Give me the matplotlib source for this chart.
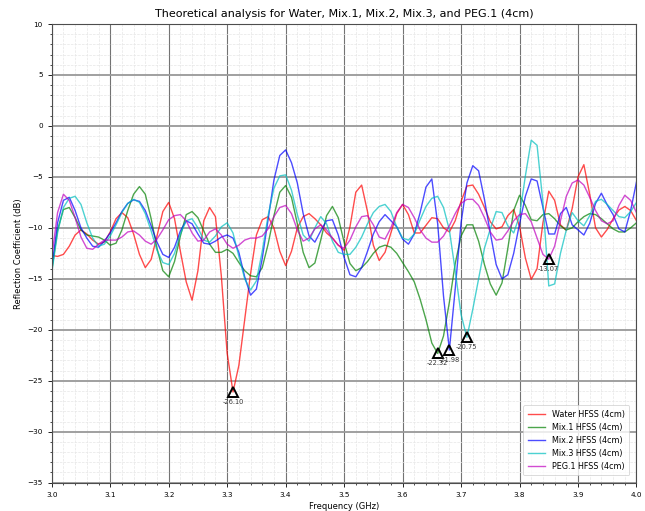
import numpy as np
import matplotlib
matplotlib.use("Agg")
import matplotlib.pyplot as plt
from matplotlib.ticker import MultipleLocator

# Frequency axis (GHz), 3.00 .. 4.00 in 0.01 steps
freq = np.round(np.arange(101) * 0.01 + 3.0, 2)

water = [-12.7, -12.8, -12.6, -11.8, -10.7, -10.2, -10.6, -11.2, -11.6, -11.4,
         -10.4, -9.1, -8.5, -9.0, -10.6, -12.6, -13.9, -13.1, -10.8, -8.4,
         -7.5, -9.1, -12.3, -15.3, -17.1, -14.2, -9.3, -8.0, -8.9, -14.7,
         -22.3, -26.1, -23.5, -19.0, -14.5, -10.7, -9.2, -8.9, -10.0, -12.3,
         -13.7, -12.3, -10.0, -8.9, -8.6, -9.1, -9.7, -10.5, -11.0, -11.7,
         -12.2, -9.9, -6.5, -5.8, -8.4, -11.7, -13.2, -12.4, -10.5, -8.6,
         -7.7, -8.7, -10.5, -10.5, -9.75, -9.0, -9.1, -10.0, -10.4, -9.3,
         -7.4, -5.9, -5.8, -6.7, -8.0, -9.4, -10.1, -9.9, -8.8, -8.2,
         -9.85, -12.95, -15.05, -14.0, -9.5, -6.4, -7.3, -9.7, -10.25, -8.1,
         -5.0, -3.8, -6.7, -10.0, -10.9, -10.15, -9.1, -8.25, -7.9, -8.3,
         -9.3]

mix1 = [-14.2, -10.2, -8.2, -8.0, -9.0, -10.2, -10.7, -10.8, -10.9, -11.2,
        -11.7, -11.5, -10.2, -8.3, -6.7, -5.95, -6.7, -9.1, -12.0, -14.2,
        -14.8, -13.3, -10.8, -8.7, -8.4, -9.0, -10.3, -11.6, -12.4, -12.4,
        -12.1, -12.5, -13.4, -14.2, -14.7, -14.8, -13.9, -11.6, -8.8, -6.5,
        -5.85, -7.0, -9.6, -12.4, -13.9, -13.45, -11.2, -8.8, -7.9, -9.0,
        -11.4, -13.5, -14.2, -13.9, -13.3, -12.5, -11.9, -11.7, -11.9, -12.5,
        -13.4, -14.3, -15.3, -17.0, -19.0, -21.3, -22.32, -20.6, -17.3, -13.5,
        -10.8, -9.7, -9.7, -11.3, -13.6, -15.5, -16.6, -15.4, -12.0, -8.3,
        -6.8, -7.8, -9.2, -9.3, -8.7, -8.6, -9.1, -9.8, -10.2, -10.0,
        -9.4, -8.9, -8.6, -8.7, -9.1, -9.6, -10.1, -10.4, -10.4, -10.0,
        -9.5]

mix2 = [-14.0, -9.5, -7.3, -7.0, -8.3, -10.0, -11.0, -11.8, -11.9, -11.3,
        -10.5, -9.5, -8.4, -7.6, -7.25, -7.4, -8.3, -9.8, -11.4, -12.6,
        -12.9, -11.9, -10.3, -9.3, -9.6, -10.6, -11.5, -11.6, -11.3, -10.9,
        -10.7, -11.0, -12.4, -14.8, -16.6, -16.0, -13.0, -9.2, -5.3, -2.9,
        -2.35, -3.6, -5.6, -8.6, -10.8, -11.4, -10.3, -9.3, -9.2, -10.7,
        -12.9, -14.6, -14.8, -13.9, -12.3, -10.6, -9.4, -8.7, -9.3, -9.9,
        -11.1, -11.6, -10.6, -8.5, -6.0, -5.2, -9.6, -16.7, -21.98, -16.0,
        -9.5, -5.6, -3.9, -4.4, -7.2, -10.5, -13.6, -15.0, -14.6, -12.5,
        -9.6, -6.9, -5.2, -5.4, -8.0, -10.6, -10.6, -8.6, -8.0, -9.7,
        -10.2, -10.7, -9.55, -7.6, -6.6, -7.75, -8.7, -10.1, -10.4, -8.3,
        -5.5]

mix3 = [-14.4, -10.5, -8.0, -7.1, -6.9, -7.7, -9.5, -11.0, -11.8, -11.6,
        -10.8, -9.7, -8.5, -7.6, -7.2, -7.5, -8.6, -10.3, -12.2, -13.4,
        -13.6, -12.5, -10.6, -9.3, -9.1, -10.0, -11.2, -11.4, -10.8, -9.9,
        -9.5, -10.5, -12.8, -15.0, -16.1, -15.2, -12.3, -8.8, -6.1, -4.9,
        -4.8, -6.3, -8.7, -10.7, -11.3, -10.0, -8.9, -9.6, -11.3, -12.4,
        -12.6, -12.6, -11.9, -10.9, -9.6, -8.5, -7.9, -7.7, -8.4, -9.9,
        -11.0, -11.2, -10.6, -9.2, -7.9, -7.1, -6.9, -8.0, -10.2, -14.2,
        -18.5, -20.75, -18.0, -15.0, -12.0, -10.1, -8.4, -8.5, -9.8, -10.5,
        -8.8, -4.9, -1.4, -1.9, -7.5, -15.7, -15.5, -12.5, -10.2, -8.5,
        -9.3, -9.8, -8.8, -7.4, -7.2, -7.7, -8.3, -8.9, -9.0, -8.4,
        -7.5]

peg1 = [-12.9, -8.5, -6.7, -7.3, -9.0, -10.9, -12.0, -12.1, -11.6, -11.2,
        -11.2, -11.2, -10.9, -10.4, -10.3, -10.7, -11.3, -11.6, -11.1, -10.2,
        -9.2, -8.8, -8.7, -9.3, -10.5, -11.3, -11.2, -10.4, -10.1, -10.7,
        -11.6, -12.0, -11.7, -11.2, -11.0, -11.0, -10.8, -10.1, -8.9, -8.0,
        -7.8, -8.6, -10.2, -11.3, -11.0, -10.1, -9.7, -10.2, -11.0, -11.7,
        -12.0, -11.2, -9.9, -8.9, -8.8, -9.7, -10.9, -11.1, -10.0, -8.5,
        -7.7, -8.0, -9.0, -10.2, -11.0, -11.4, -11.4, -10.8, -9.8, -8.6,
        -7.6, -7.2, -7.2, -7.8, -9.0, -10.4, -11.2, -11.1, -10.3, -9.3,
        -8.7, -8.6, -9.4, -11.0, -12.6, -13.07, -11.8, -9.3, -6.9, -5.6,
        -5.3, -5.8, -7.0, -8.3, -9.3, -9.6, -9.3, -7.8, -6.8, -7.3,
        -8.5]

labels = ["Water HFSS (4cm)", "Mix.1 HFSS (4cm)", "Mix.2 HFSS (4cm)",
          "Mix.3 HFSS (4cm)", "PEG.1 HFSS (4cm)"]
colors = ["#ff0000", "#008000", "#0000ff", "#00bfbf", "#bf00bf"]
series = [water, mix1, mix2, mix3, peg1]

fig = plt.figure(figsize=(6.45, 5.11), dpi=100)
ax = fig.add_axes([0.0802, 0.0554, 0.9066, 0.8976])

for vals, lab, col in zip(series, labels, colors):
    ax.plot(freq, vals, color=col, lw=1.0, alpha=0.7, label=lab)

for vals in series:
    v = np.asarray(vals)
    i = int(np.argmin(v))
    ax.plot(freq[i], v[i], marker="^", ms=7, mfc="none", mec="black",
            mew=1.4, zorder=5)
    ax.annotate(f"{v[i]:.2f}", (freq[i], v[i]), xytext=(0, -5),
                textcoords="offset points", ha="center", va="top",
                fontsize=4.8, color="#333333", zorder=6)

ax.set_xlim(3.0, 4.0)
ax.set_ylim(-35, 10)
ax.xaxis.set_major_locator(MultipleLocator(0.1))
ax.xaxis.set_minor_locator(MultipleLocator(0.02))
ax.yaxis.set_major_locator(MultipleLocator(5))
ax.yaxis.set_minor_locator(MultipleLocator(1))

ax.xaxis.grid(True, which="major", color="0.45", lw=0.8)
ax.yaxis.grid(True, which="major", color="0.6", lw=1.3)
ax.grid(True, which="minor", color="0.9", lw=0.5, ls="--")
ax.set_axisbelow(True)

ax.tick_params(which="major", labelsize=5.2, length=3, width=0.6)
ax.tick_params(which="minor", length=1.6, width=0.5)
for s in ax.spines.values():
    s.set_color("0.3")
    s.set_linewidth(0.8)

ax.set_title("Theoretical analysis for Water, Mix.1, Mix.2, Mix.3, and PEG.1 (4cm)",
             fontsize=8, pad=5)
ax.set_xlabel("Frequency (GHz)", fontsize=6, labelpad=3)
ax.set_ylabel("Reflection Coefficient (dB)", fontsize=6, labelpad=3)

leg = ax.legend(loc="lower right", fontsize=5.8, frameon=True, fancybox=True,
                borderpad=0.55, handlelength=2.2, labelspacing=0.5,
                borderaxespad=0.9)
leg.get_frame().set_edgecolor("0.8")
leg.get_frame().set_linewidth(0.6)

fig.savefig("out.png", dpi=100)
